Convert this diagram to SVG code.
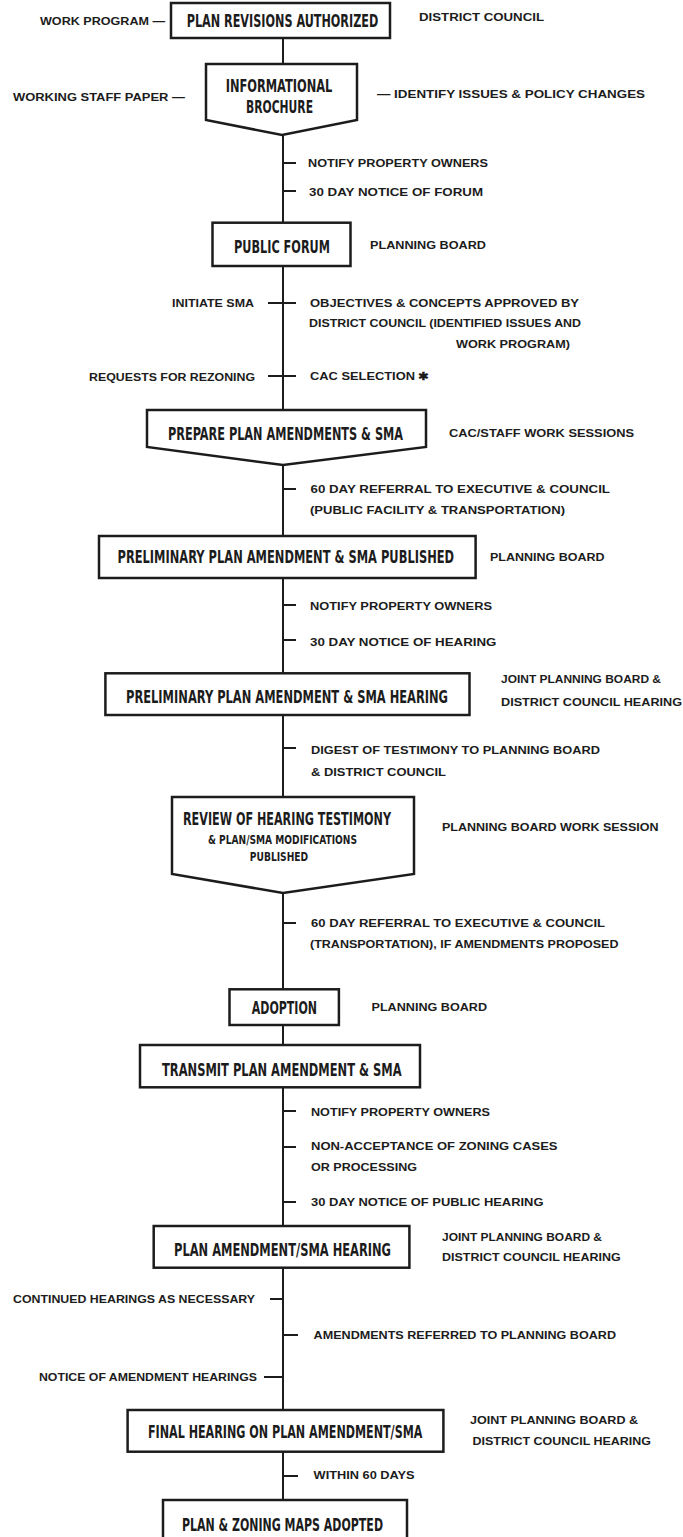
<svg xmlns="http://www.w3.org/2000/svg" width="683" height="1537" viewBox="0 0 683 1537">
<style>
.bg{fill:#ffffff}
.box{fill:#ffffff;stroke:#1c1c1c;stroke-width:2.5;stroke-linejoin:miter}
.ln{stroke:#1c1c1c;stroke-width:2;fill:none}
.bt{font-family:"DejaVu Sans Condensed","DejaVu Sans","Liberation Sans",sans-serif;font-weight:bold;font-size:13px;fill:#1c1c1c;text-anchor:middle}
.bs{font-family:"DejaVu Sans Condensed","DejaVu Sans","Liberation Sans",sans-serif;font-weight:bold;font-size:9.5px;fill:#1c1c1c;text-anchor:middle}
.lb{font-family:"Liberation Sans","Arial",sans-serif;font-weight:bold;font-size:11px;fill:#1c1c1c}
</style>
<rect class="bg" x="0" y="0" width="683" height="1537"/>

<g id="connectors">
<line class="ln" x1="283" y1="37" x2="283" y2="64"/>
<line class="ln" x1="283" y1="135" x2="283" y2="223"/>
<line class="ln" x1="283" y1="266" x2="283" y2="410"/>
<line class="ln" x1="283" y1="465" x2="283" y2="536"/>
<line class="ln" x1="283" y1="578" x2="283" y2="673"/>
<line class="ln" x1="283" y1="715" x2="283" y2="797"/>
<line class="ln" x1="283" y1="893" x2="283" y2="989"/>
<line class="ln" x1="283" y1="1025" x2="283" y2="1045"/>
<line class="ln" x1="283" y1="1087" x2="283" y2="1226"/>
<line class="ln" x1="283" y1="1268" x2="283" y2="1410"/>
<line class="ln" x1="283" y1="1452" x2="283" y2="1500"/>
<line class="ln" x1="283" y1="163" x2="296" y2="163"/>
<line class="ln" x1="283" y1="191" x2="296" y2="191"/>
<line class="ln" x1="268" y1="303" x2="296" y2="303"/>
<line class="ln" x1="268" y1="376" x2="296" y2="376"/>
<line class="ln" x1="283" y1="489" x2="296" y2="489"/>
<line class="ln" x1="283" y1="605" x2="296" y2="605"/>
<line class="ln" x1="283" y1="640" x2="296" y2="640"/>
<line class="ln" x1="283" y1="748" x2="296" y2="748"/>
<line class="ln" x1="283" y1="923" x2="296" y2="923"/>
<line class="ln" x1="283" y1="1111" x2="296" y2="1111"/>
<line class="ln" x1="283" y1="1147" x2="296" y2="1147"/>
<line class="ln" x1="283" y1="1202" x2="296" y2="1202"/>
<line class="ln" x1="270" y1="1299" x2="283" y2="1299"/>
<line class="ln" x1="283" y1="1335" x2="298" y2="1335"/>
<line class="ln" x1="264" y1="1377" x2="283" y2="1377"/>
<line class="ln" x1="283" y1="1476" x2="298" y2="1476"/>
</g>

<g id="plan-revisions-authorized">
<rect class="box" x="171" y="3" width="219" height="35"/>
<text class="bt" transform="translate(282.5,26.5) scale(1,1.35)" x="0" y="0" textLength="191.6" lengthAdjust="spacingAndGlyphs">PLAN REVISIONS AUTHORIZED</text>
</g>
<g id="informational-brochure">
<polygon class="box" points="206,64 357,64 357,120 282,135 206,120"/>
<text class="bt" transform="translate(279,92) scale(1,1.35)" x="0" y="0" textLength="106.7" lengthAdjust="spacingAndGlyphs">INFORMATIONAL</text>
<text class="bt" transform="translate(279.5,113) scale(1,1.35)" x="0" y="0" textLength="67" lengthAdjust="spacingAndGlyphs">BROCHURE</text>
</g>
<g id="public-forum">
<rect class="box" x="212.5" y="222.7" width="138" height="43.3"/>
<text class="bt" transform="translate(282,253) scale(1,1.35)" x="0" y="0" textLength="96" lengthAdjust="spacingAndGlyphs">PUBLIC FORUM</text>
</g>
<g id="prepare-plan-amendments">
<polygon class="box" points="147,410 426,410 426,447 283,465 147,447"/>
<text class="bt" transform="translate(285.5,440) scale(1,1.35)" x="0" y="0" textLength="235" lengthAdjust="spacingAndGlyphs">PREPARE PLAN AMENDMENTS &amp; SMA</text>
</g>
<g id="preliminary-published">
<rect class="box" x="99" y="536" width="376.6" height="42"/>
<text class="bt" transform="translate(285.8,563) scale(1,1.35)" x="0" y="0" textLength="336.6" lengthAdjust="spacingAndGlyphs">PRELIMINARY PLAN AMENDMENT &amp; SMA PUBLISHED</text>
</g>
<g id="preliminary-hearing">
<rect class="box" x="105.4" y="673.3" width="364.1" height="41.7"/>
<text class="bt" transform="translate(287,703) scale(1,1.35)" x="0" y="0" textLength="322" lengthAdjust="spacingAndGlyphs">PRELIMINARY PLAN AMENDMENT &amp; SMA HEARING</text>
</g>
<g id="review-of-hearing-testimony">
<polygon class="box" points="172,797 414,797 414,874 283,893 172,874"/>
<text class="bt" transform="translate(287,824.5) scale(1,1.35)" x="0" y="0" textLength="208" lengthAdjust="spacingAndGlyphs">REVIEW OF HEARING TESTIMONY</text>
<text class="bs" transform="translate(282.5,844) scale(1,1.2)" x="0" y="0" textLength="149" lengthAdjust="spacingAndGlyphs">&amp; PLAN/SMA MODIFICATIONS</text>
<text class="bs" transform="translate(279,860.5) scale(1,1.3)" x="0" y="0" textLength="58.4" lengthAdjust="spacingAndGlyphs">PUBLISHED</text>
</g>
<g id="adoption">
<rect class="box" x="229.5" y="989.3" width="109.4" height="35.7"/>
<text class="bt" transform="translate(284.4,1014) scale(1,1.35)" x="0" y="0" textLength="65.3" lengthAdjust="spacingAndGlyphs">ADOPTION</text>
</g>
<g id="transmit">
<rect class="box" x="140" y="1045" width="280" height="42.3"/>
<text class="bt" transform="translate(281.8,1075.5) scale(1,1.35)" x="0" y="0" textLength="239.6" lengthAdjust="spacingAndGlyphs">TRANSMIT PLAN AMENDMENT &amp; SMA</text>
</g>
<g id="plan-amendment-sma-hearing">
<rect class="box" x="153.7" y="1226" width="255.7" height="41.7"/>
<text class="bt" transform="translate(282.5,1256) scale(1,1.35)" x="0" y="0" textLength="217" lengthAdjust="spacingAndGlyphs">PLAN AMENDMENT/SMA HEARING</text>
</g>
<g id="final-hearing">
<rect class="box" x="127.6" y="1410" width="315.8" height="41.7"/>
<text class="bt" transform="translate(285.2,1438) scale(1,1.35)" x="0" y="0" textLength="274.5" lengthAdjust="spacingAndGlyphs">FINAL HEARING ON PLAN AMENDMENT/SMA</text>
</g>
<g id="plan-zoning-maps-adopted">
<rect class="box" x="163" y="1500" width="244" height="50"/>
<text class="bt" transform="translate(282.5,1530.5) scale(1,1.35)" x="0" y="0" textLength="201" lengthAdjust="spacingAndGlyphs">PLAN &amp; ZONING MAPS ADOPTED</text>
</g>

<g id="labels">
<text class="lb" x="40" y="25" textLength="125" lengthAdjust="spacingAndGlyphs">WORK PROGRAM —</text>
<text class="lb" x="419" y="21" textLength="125" lengthAdjust="spacingAndGlyphs">DISTRICT COUNCIL</text>
<text class="lb" x="13" y="101" textLength="172" lengthAdjust="spacingAndGlyphs">WORKING STAFF PAPER —</text>
<text class="lb" x="377" y="98" textLength="268" lengthAdjust="spacingAndGlyphs">— IDENTIFY ISSUES &amp; POLICY CHANGES</text>
<text class="lb" x="308" y="167" textLength="180" lengthAdjust="spacingAndGlyphs">NOTIFY PROPERTY OWNERS</text>
<text class="lb" x="309" y="196" textLength="174" lengthAdjust="spacingAndGlyphs">30 DAY NOTICE OF FORUM</text>
<text class="lb" x="370" y="249" textLength="116" lengthAdjust="spacingAndGlyphs">PLANNING BOARD</text>
<text class="lb" x="172" y="307" textLength="82" lengthAdjust="spacingAndGlyphs">INITIATE SMA</text>
<text class="lb" x="310" y="307" textLength="269" lengthAdjust="spacingAndGlyphs">OBJECTIVES &amp; CONCEPTS APPROVED BY</text>
<text class="lb" x="309" y="327" textLength="272" lengthAdjust="spacingAndGlyphs">DISTRICT COUNCIL (IDENTIFIED ISSUES AND</text>
<text class="lb" x="456" y="347.5" textLength="114" lengthAdjust="spacingAndGlyphs">WORK PROGRAM)</text>
<text class="lb" x="89" y="381" textLength="166" lengthAdjust="spacingAndGlyphs">REQUESTS FOR REZONING</text>
<text class="lb" x="310" y="380" textLength="119" lengthAdjust="spacingAndGlyphs">CAC SELECTION ✱</text>
<text class="lb" x="449" y="437" textLength="185" lengthAdjust="spacingAndGlyphs">CAC/STAFF WORK SESSIONS</text>
<text class="lb" x="310.5" y="493" textLength="299.5" lengthAdjust="spacingAndGlyphs">60 DAY REFERRAL TO EXECUTIVE &amp; COUNCIL</text>
<text class="lb" x="310" y="514" textLength="255" lengthAdjust="spacingAndGlyphs">(PUBLIC FACILITY &amp; TRANSPORTATION)</text>
<text class="lb" x="490" y="561" textLength="114.5" lengthAdjust="spacingAndGlyphs">PLANNING BOARD</text>
<text class="lb" x="310" y="610" textLength="182" lengthAdjust="spacingAndGlyphs">NOTIFY PROPERTY OWNERS</text>
<text class="lb" x="310" y="645.7" textLength="186.5" lengthAdjust="spacingAndGlyphs">30 DAY NOTICE OF HEARING</text>
<text class="lb" x="501" y="683" textLength="160" lengthAdjust="spacingAndGlyphs">JOINT PLANNING BOARD &amp;</text>
<text class="lb" x="501" y="705.7" textLength="181" lengthAdjust="spacingAndGlyphs">DISTRICT COUNCIL HEARING</text>
<text class="lb" x="311" y="754" textLength="289" lengthAdjust="spacingAndGlyphs">DIGEST OF TESTIMONY TO PLANNING BOARD</text>
<text class="lb" x="311" y="775.7" textLength="135" lengthAdjust="spacingAndGlyphs">&amp; DISTRICT COUNCIL</text>
<text class="lb" x="442" y="831" textLength="216.5" lengthAdjust="spacingAndGlyphs">PLANNING BOARD WORK SESSION</text>
<text class="lb" x="311" y="927.3" textLength="294" lengthAdjust="spacingAndGlyphs">60 DAY REFERRAL TO EXECUTIVE &amp; COUNCIL</text>
<text class="lb" x="310" y="948" textLength="308.5" lengthAdjust="spacingAndGlyphs">(TRANSPORTATION), IF AMENDMENTS PROPOSED</text>
<text class="lb" x="371.5" y="1011.3" textLength="115.5" lengthAdjust="spacingAndGlyphs">PLANNING BOARD</text>
<text class="lb" x="311" y="1115.7" textLength="179" lengthAdjust="spacingAndGlyphs">NOTIFY PROPERTY OWNERS</text>
<text class="lb" x="311" y="1150" textLength="246.5" lengthAdjust="spacingAndGlyphs">NON-ACCEPTANCE OF ZONING CASES</text>
<text class="lb" x="311" y="1170.7" textLength="106" lengthAdjust="spacingAndGlyphs">OR PROCESSING</text>
<text class="lb" x="311" y="1205.7" textLength="232.5" lengthAdjust="spacingAndGlyphs">30 DAY NOTICE OF PUBLIC HEARING</text>
<text class="lb" x="442" y="1240.7" textLength="160" lengthAdjust="spacingAndGlyphs">JOINT PLANNING BOARD &amp;</text>
<text class="lb" x="442" y="1260.7" textLength="178.6" lengthAdjust="spacingAndGlyphs">DISTRICT COUNCIL HEARING</text>
<text class="lb" x="13" y="1303" textLength="242" lengthAdjust="spacingAndGlyphs">CONTINUED HEARINGS AS NECESSARY</text>
<text class="lb" x="313.6" y="1339" textLength="302.4" lengthAdjust="spacingAndGlyphs">AMENDMENTS REFERRED TO PLANNING BOARD</text>
<text class="lb" x="39" y="1380.7" textLength="218" lengthAdjust="spacingAndGlyphs">NOTICE OF AMENDMENT HEARINGS</text>
<text class="lb" x="470" y="1424" textLength="168" lengthAdjust="spacingAndGlyphs">JOINT PLANNING BOARD &amp;</text>
<text class="lb" x="472.6" y="1444.7" textLength="178.4" lengthAdjust="spacingAndGlyphs">DISTRICT COUNCIL HEARING</text>
<text class="lb" x="313.6" y="1479" textLength="101" lengthAdjust="spacingAndGlyphs">WITHIN 60 DAYS</text>
</g>
</svg>
